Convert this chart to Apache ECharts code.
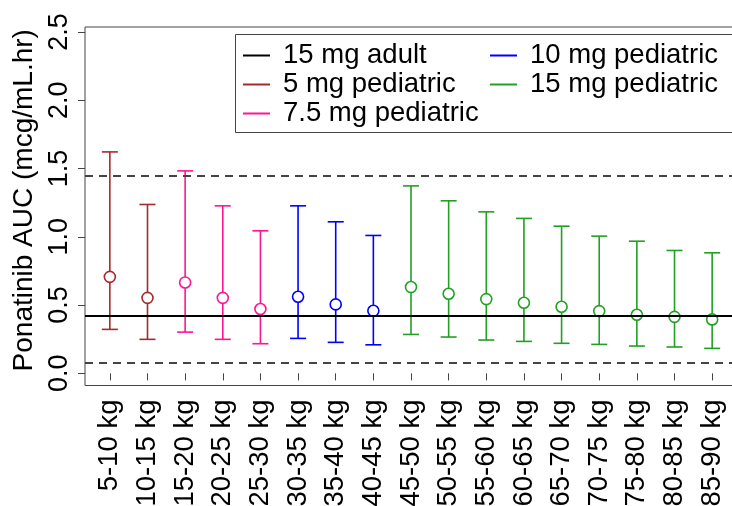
<!DOCTYPE html>
<html>
<head>
<meta charset="utf-8">
<script src="https://cdn.jsdelivr.net/npm/echarts@6/dist/echarts.min.js"></script>
<style>
html,body{margin:0;padding:0;background:#fff;}
#chart{width:732px;height:506px;}
</style>
</head>
<body>
<div id="chart"></div>
<script>
// ---- data ----
const categories = ['5-10 kg','10-15 kg','15-20 kg','20-25 kg','25-30 kg','30-35 kg','35-40 kg','40-45 kg','45-50 kg','50-55 kg','55-60 kg','60-65 kg','65-70 kg','70-75 kg','75-80 kg','80-85 kg','85-90 kg'];
const doseGroup = ['5 mg pediatric','5 mg pediatric','7.5 mg pediatric','7.5 mg pediatric','7.5 mg pediatric','10 mg pediatric','10 mg pediatric','10 mg pediatric','15 mg pediatric','15 mg pediatric','15 mg pediatric','15 mg pediatric','15 mg pediatric','15 mg pediatric','15 mg pediatric','15 mg pediatric','15 mg pediatric'];
const medianAUC = [0.707,0.553,0.666,0.553,0.471,0.561,0.505,0.458,0.632,0.583,0.544,0.517,0.488,0.456,0.429,0.414,0.395];
const lowerAUC  = [0.322,0.249,0.302,0.249,0.217,0.256,0.227,0.209,0.285,0.266,0.244,0.234,0.220,0.212,0.200,0.193,0.183];
const upperAUC  = [1.622,1.237,1.483,1.227,1.044,1.227,1.110,1.010,1.373,1.264,1.183,1.135,1.078,1.005,0.968,0.900,0.883];
const adultMedian = 0.422;
const adultLower = 0.078;
const adultUpper = 1.452;
const yTicks = [0, 0.5, 1.0, 1.5, 2.0, 2.5];
const legendCol1 = ['15 mg adult','5 mg pediatric','7.5 mg pediatric'];
const legendCol2 = ['10 mg pediatric','15 mg pediatric'];
const groupColors = {
  '15 mg adult': '#000000',
  '5 mg pediatric': '#A52A2A',
  '7.5 mg pediatric': '#FF1493',
  '10 mg pediatric': '#0000FF',
  '15 mg pediatric': '#22A022'
};

const FONT = 'Liberation Sans, Arial, Helvetica, sans-serif';

function renderErrorBar(params, api) {
  const x = api.value(0);
  const lo = api.coord([x, api.value(1)]);
  const md = api.coord([x, api.value(2)]);
  const hi = api.coord([x, api.value(3)]);
  const r = 5.5, cap = 8;
  const color = api.visual('color');
  const st = {stroke: color, lineWidth: 1.6, fill: null};
  return {
    type: 'group',
    children: [
      {type: 'line', shape: {x1: hi[0], y1: hi[1], x2: md[0], y2: md[1] - r}, style: st},
      {type: 'line', shape: {x1: md[0], y1: md[1] + r, x2: lo[0], y2: lo[1]}, style: st},
      {type: 'line', shape: {x1: hi[0] - cap, y1: hi[1], x2: hi[0] + cap, y2: hi[1]}, style: st},
      {type: 'line', shape: {x1: lo[0] - cap, y1: lo[1], x2: lo[0] + cap, y2: lo[1]}, style: st},
      {type: 'circle', shape: {cx: md[0], cy: md[1], r: r}, style: {stroke: color, lineWidth: 1.6, fill: null}}
    ]
  };
}

const pedGroups = ['5 mg pediatric','7.5 mg pediatric','10 mg pediatric','15 mg pediatric'];
const series = [{
  name: '15 mg adult',
  type: 'line',
  data: [],
  color: groupColors['15 mg adult'],
  z: 1,
  markLine: {
    silent: true,
    symbol: 'none',
    label: {show: false},
    animation: false,
    data: [
      {yAxis: adultMedian, lineStyle: {color: '#000', width: 2.2, type: 'solid'}},
      {yAxis: adultUpper, lineStyle: {color: '#444', width: 2, type: [8, 6]}},
      {yAxis: adultLower, lineStyle: {color: '#444', width: 2, type: [8, 6]}}
    ]
  }
}];
pedGroups.forEach(g => {
  const d = [];
  categories.forEach((c, i) => {
    if (doseGroup[i] === g) d.push([i + 1, lowerAUC[i], medianAUC[i], upperAUC[i]]);
  });
  series.push({
    name: g,
    type: 'custom',
    color: groupColors[g],
    z: 3,
    renderItem: renderErrorBar,
    encode: {x: 0, y: [1, 2, 3]},
    data: d
  });
});

const legendBase = {
  orient: 'vertical',
  top: 41,
  padding: 0,
  itemGap: 0,
  itemWidth: 27,
  itemHeight: 2,
  icon: 'rect',
  selectedMode: false,
  textStyle: {fontFamily: FONT, fontSize: 27.5, color: '#000', lineHeight: 29, padding: [0, 0, 0, 8]}
};

const chart = echarts.init(document.getElementById('chart'), null, {renderer: 'canvas'});
chart.setOption({
  animation: false,
  backgroundColor: '#fff',
  grid: {left: 85, top: 27, width: 652, height: 358.5, show: true, borderColor: '#444', borderWidth: 1,
         backgroundColor: 'transparent', containLabel: false, outerBoundsMode: 'none'},
  legend: [
    Object.assign({}, legendBase, {left: 243, data: legendCol1}),
    Object.assign({}, legendBase, {left: 490, data: legendCol2})
  ],
  graphic: [{
    type: 'rect', left: 233, top: 32, z: 100,
    shape: {width: 497, height: 98},
    style: {fill: null, stroke: '#444', lineWidth: 1}
  }],
  xAxis: {
    type: 'value', min: 0.34, max: 17.66,
    splitLine: {show: false},
    axisLine: {show: false},
    axisTick: {show: true, length: 7, customValues: categories.map((c, i) => i + 1), lineStyle: {color: '#444'}},
    axisLabel: {
      customValues: categories.map((c, i) => i + 1),
      rotate: 90, margin: 14, fontFamily: FONT, fontSize: 27.5, color: '#000',
      formatter: v => categories[Math.round(v) - 1] || ''
    }
  },
  yAxis: {
    type: 'value', min: -0.089, max: 2.537,
    splitLine: {show: false},
    axisLine: {show: false},
    axisTick: {show: true, length: 7, customValues: yTicks, lineStyle: {color: '#444'}},
    axisLabel: {
      customValues: yTicks, rotate: 90, margin: 12, fontFamily: FONT, fontSize: 27, color: '#000',
      formatter: v => v.toFixed(1)
    },
    name: 'Ponatinib AUC (mcg/mL.hr)',
    nameLocation: 'middle', nameRotate: 90, nameGap: 47,
    nameTextStyle: {fontFamily: FONT, fontSize: 28, color: '#000', padding: [0, 0, 0, 12]}
  },
  series: series
});
</script>
</body>
</html>
